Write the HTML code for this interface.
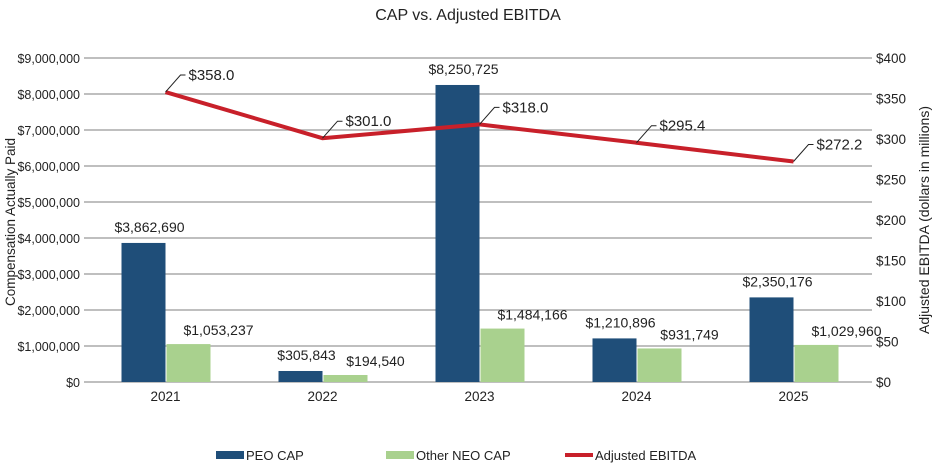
<!DOCTYPE html>
<html><head><meta charset="utf-8"><style>
body{margin:0;background:#fff;font-family:"Liberation Sans",Arial,sans-serif}
svg text{font-family:"Liberation Sans",Arial,sans-serif}
</style></head><body>
<svg id="chart" width="936" height="464" xmlns="http://www.w3.org/2000/svg">
<text x="468" y="20" text-anchor="middle" font-size="16" fill="#222">CAP vs. Adjusted EBITDA</text>
<g id="grid"></g><g id="bars"></g><g id="line"></g><g id="labels"></g>
<text transform="translate(15,222) rotate(-90)" text-anchor="middle" font-size="13.5" fill="#222">Compensation Actually Paid</text>
<text transform="translate(929,220) rotate(-90)" text-anchor="middle" font-size="14" fill="#222">Adjusted EBITDA (dollars in millions)</text>
<g>
<g><rect x="216" y="451" width="28" height="8" fill="#1f4e79"/><text x="246" y="460" font-size="13" fill="#222">PEO CAP</text></g>
<g><rect x="386" y="451" width="28" height="8" fill="#a9d18e"/><text x="416" y="460" font-size="13" fill="#222">Other NEO CAP</text></g>
<g><rect x="565" y="453" width="28" height="4" fill="#c8202a"/><text x="595" y="460" font-size="13" fill="#222">Adjusted EBITDA</text></g>
</g>
</svg>
<script>
const categories=["2021","2022","2023","2024","2025"];
const peoCap=[3862690,305843,8250725,1210896,2350176];
const neoCap=[1053237,194540,1484166,931749,1029960];
const ebitda=[358.0,301.0,318.0,295.4,272.2];
const leftTicks=[0,1000000,2000000,3000000,4000000,5000000,6000000,7000000,8000000,9000000];
const rightTicks=[0,50,100,150,200,250,300,350,400];
const NS="http://www.w3.org/2000/svg";
const L=87,R=872,T=58,B=382;
const yL=v=>B-(v/9000000)*(B-T);
const yR=v=>B-(v/400)*(B-T);
const gw=(R-L)/categories.length;
const xc=i=>L+gw*(i+0.5);
const fmt=v=>"$"+Math.round(v).toLocaleString("en-US");
function mk(tag,attrs,parent,text){const e=document.createElementNS(NS,tag);for(const k in attrs)e.setAttribute(k,attrs[k]);if(text!==undefined)e.textContent=text;document.getElementById(parent).appendChild(e);return e;}
leftTicks.forEach(v=>{
 const g=mk("line",{x1:L-3,x2:R,y1:yL(v),y2:yL(v),stroke:"#aaa","stroke-width":1.5},"grid");
 
 
 const t=mk("text",{x:L-7,y:yL(v)+5,"text-anchor":"end","font-size":12.5,fill:"#222"},"grid",fmt(v));
 
 
});
rightTicks.forEach(v=>{
 const t=mk("text",{x:R+4,y:yR(v)+5,"font-size":13.5,fill:"#222"},"grid","$"+v);
 
 
});
const bw=44;
categories.forEach((c,i)=>{
 const x=xc(i);
 const t=mk("text",{x:x,y:B+19,"text-anchor":"middle","font-size":13.5,fill:"#222"},"labels",c);
 
 
 const b1=mk("rect",{x:x-bw,y:yL(peoCap[i]),width:bw,height:B-yL(peoCap[i]),fill:"#1f4e79"},"bars");
 
 
 const b2=mk("rect",{x:x+1,y:yL(neoCap[i]),width:bw,height:B-yL(neoCap[i]),fill:"#a9d18e"},"bars");
 
 
 const l1=mk("text",{x:x-bw/2+6,y:yL(peoCap[i])-11,"text-anchor":"middle","font-size":14,fill:"#222"},"labels",fmt(peoCap[i]));
 
 
 const l2=mk("text",{x:x+1+bw/2+30,y:yL(neoCap[i])-9,"text-anchor":"middle","font-size":14,fill:"#222"},"labels",fmt(neoCap[i]));
 
 
});
const pts=ebitda.map((v,i)=>xc(i)+","+yR(v)).join(" ");
const pl=mk("polyline",{points:pts,fill:"none",stroke:"#c8202a","stroke-width":4},"line");


ebitda.forEach((v,i)=>{
 const x=xc(i),y=yR(v);
 const ld=mk("polyline",{points:`${x},${y} ${x+15},${y-17} ${x+20},${y-17}`,fill:"none",stroke:"#222","stroke-width":1},"labels");
 
 
 const t=mk("text",{x:x+23,y:y-12,"font-size":15,fill:"#222"},"labels","$"+v.toFixed(1));
 
 
});
</script>
</body></html>
